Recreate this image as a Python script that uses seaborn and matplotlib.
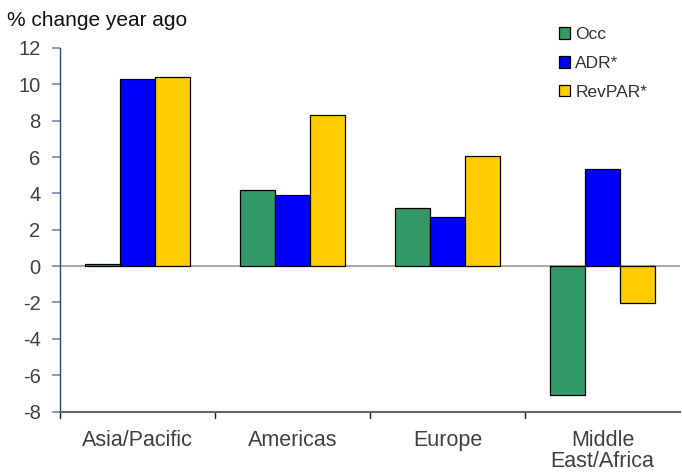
import matplotlib
matplotlib.use("Agg")
import matplotlib.pyplot as plt
import seaborn as sns
import pandas as pd
from matplotlib.patches import Patch

regions = ["Asia/Pacific", "Americas", "Europe", "Middle\nEast/Africa"]
occ = [0.1, 4.2, 3.2, -7.1]
adr = [10.3, 3.9, 2.7, 5.35]
revpar = [10.4, 8.3, 6.05, -2.05]
series = ["Occ", "ADR*", "RevPAR*"]
colors = ["#339966", "#0000FF", "#FFCC00"]
yticks = [-8, -6, -4, -2, 0, 2, 4, 6, 8, 10, 12]

rows = []
for name, vals in zip(series, [occ, adr, revpar]):
    for r, v in zip(regions, vals):
        rows.append({"region": r, "series": name, "value": v})
df = pd.DataFrame(rows)

sns.set_style("white")
plt.rcParams["font.family"] = ["Liberation Sans", "DejaVu Sans"]

fig = plt.figure(figsize=(6.82, 4.72), dpi=100)
ax = fig.add_axes([60 / 682, 1 - 411.5 / 472, 620 / 682, (411.5 - 48) / 472])

ax.axhline(0, color="#999999", linewidth=1.2, zorder=0)
sns.barplot(data=df, x="region", y="value", hue="series", order=regions,
            hue_order=series, palette=colors, width=0.68, dodge=True,
            edgecolor="black", linewidth=0.9, saturation=1, legend=False, ax=ax)

ax.set_xlim(-0.5, 3.5)
ax.set_ylim(-8, 12)
ax.set_yticks(yticks)
ax.set_yticklabels([str(t) for t in yticks], fontsize=14.5, color="#404040")
ax.set_xticks([0, 1, 2, 3])
ax.set_xticklabels(regions, fontsize=15.5, color="#404040", linespacing=1.05)
ax.tick_params(axis="x", length=0, pad=13)
for b in [-0.5, 0.5, 1.5, 2.5]:
    ax.plot([b, b], [0, -0.018], transform=ax.get_xaxis_transform(),
            color="#222222", linewidth=1, clip_on=False)
ax.tick_params(axis="y", length=6, width=1.2, color="#6f8fa8", left=True, pad=8)
ax.set_xlabel("")
ax.set_ylabel("")
for s in ["top", "right"]:
    ax.spines[s].set_visible(False)
ax.spines["left"].set_color("#2c4a66")
ax.spines["left"].set_linewidth(1.0)
ax.spines["bottom"].set_color("#666666")
ax.spines["bottom"].set_linewidth(1.5)

fig.text(7 / 682, 1 - 20 / 472, "% change year ago", fontsize=15,
         color="#111111", va="center", ha="left")

handles = [Patch(facecolor=c, edgecolor="black", linewidth=0.9) for c in colors]
leg = fig.legend(handles, series, loc="upper left",
                 bbox_to_anchor=(552 / 682, 1 - 20 / 472), frameon=False,
                 fontsize=12.5, handlelength=0.65, handleheight=0.65,
                 handletextpad=0.3, labelspacing=0.8, borderaxespad=0)
for t in leg.get_texts():
    t.set_color("#333333")

fig.savefig("out.png", dpi=100)
